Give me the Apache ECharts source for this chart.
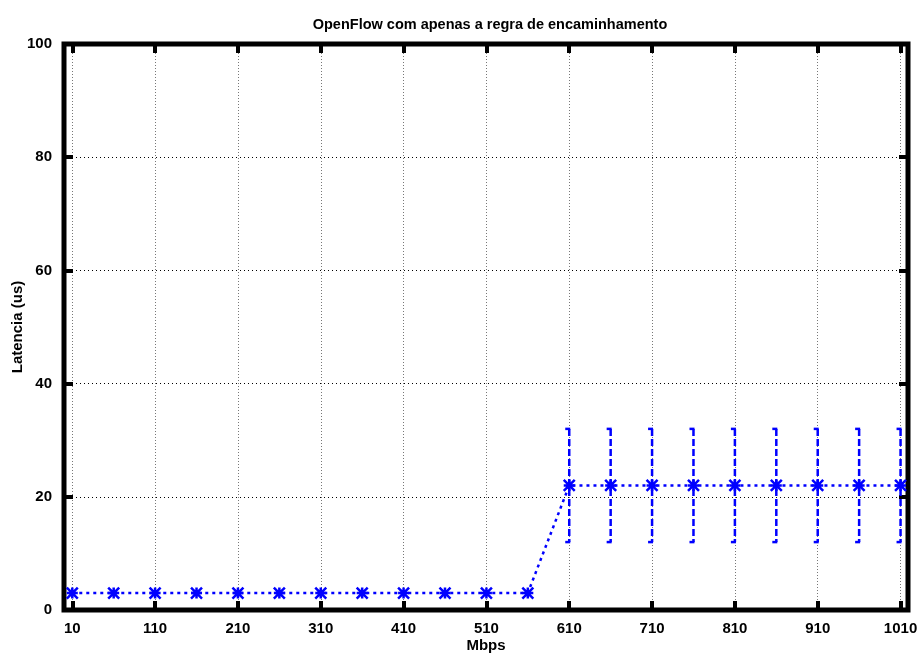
<!DOCTYPE html>
<html>
<head>
<meta charset="utf-8">
<title>OpenFlow com apenas a regra de encaminhamento</title>
<script src="https://cdn.jsdelivr.net/npm/echarts@6/dist/echarts.min.js"></script>
<style>
  html, body { margin: 0; padding: 0; background: #fff; }
  #chart { width: 921px; height: 657px; }
</style>
</head>
<body>
<div id="chart"></div>
<script>
// Offered load (Mbps) and measured latency (us)
const mbps = [10, 60, 110, 160, 210, 260, 310, 360, 410, 460, 510, 560,
              610, 660, 710, 760, 810, 860, 910, 960, 1010];
const latency = [3, 3, 3, 3, 3, 3, 3, 3, 3, 3, 3, 3,
                 22, 22, 22, 22, 22, 22, 22, 22, 22];
// Error bars (only for the loaded region)
const errMbps = [610, 660, 710, 760, 810, 860, 910, 960, 1010];
const errLow  = [12, 12, 12, 12, 12, 12, 12, 12, 12];
const errHigh = [32, 32, 32, 32, 32, 32, 32, 32, 32];
// Axis ticks
const xTicks = [10, 110, 210, 310, 410, 510, 610, 710, 810, 910, 1010];

const BLUE = '#0000ff';
const FONT = '"Liberation Sans", Arial, Helvetica, sans-serif';

const chart = echarts.init(document.getElementById('chart'), null, { renderer: 'canvas' });

const tickStyle = { show: true, inside: true, length: 9, lineStyle: { color: '#000', width: 4 } };
const labelFont = { fontFamily: FONT, fontSize: 15, fontWeight: 'bold', color: '#000' };
const noLine = { show: false, onZero: false };

const option = {
  animation: false,
  backgroundColor: '#fff',
  title: {
    text: 'OpenFlow com apenas a regra de encaminhamento',
    left: 485, top: 12, textAlign: 'center',
    textStyle: { fontFamily: FONT, fontSize: 14.5, fontWeight: 'bold', color: '#000' }
  },
  grid: {
    left: 64, right: 13, top: 44, bottom: 47,
    outerBoundsMode: 'none',
    containLabel: false,
    show: true, borderColor: '#000', borderWidth: 5, backgroundColor: 'transparent'
  },
  xAxis: [{
    type: 'value', min: 0, max: 1019, position: 'bottom',
    name: 'Mbps', nameLocation: 'middle', nameGap: 28, nameMoveOverlap: false,
    nameTextStyle: labelFont,
    axisLine: noLine,
    axisTick: Object.assign({ customValues: xTicks }, tickStyle),
    axisLabel: Object.assign({ customValues: xTicks, margin: 11, formatter: v => String(v) }, labelFont),
    splitLine: { show: true, lineStyle: { color: '#777', width: 1, type: [1, 2] } }
  }, {
    type: 'value', min: 0, max: 1019, position: 'top',
    axisLine: noLine,
    axisTick: Object.assign({ customValues: xTicks }, tickStyle),
    axisLabel: { show: false },
    splitLine: { show: false }
  }],
  yAxis: [{
    type: 'value', min: 0, max: 100, interval: 20, position: 'left',
    name: 'Latencia (us)', nameLocation: 'middle', nameGap: 39, nameMoveOverlap: false,
    nameTextStyle: labelFont,
    axisLine: noLine,
    axisTick: tickStyle,
    axisLabel: Object.assign({ margin: 12 }, labelFont),
    splitLine: { show: true, lineStyle: { color: '#000', width: 1, type: [1, 3] } }
  }, {
    type: 'value', min: 0, max: 100, interval: 20, position: 'right',
    axisLine: noLine,
    axisTick: tickStyle,
    axisLabel: { show: false },
    splitLine: { show: false }
  }],
  series: [{
    type: 'custom',
    name: 'erro',
    xAxisIndex: 0, yAxisIndex: 0,
    data: errMbps.map((x, i) => [x, errLow[i], errHigh[i]]),
    encode: { x: 0, y: [1, 2] },
    z: 3,
    renderItem: function (params, api) {
      const top = api.coord([api.value(0), api.value(2)]);
      const bot = api.coord([api.value(0), api.value(1)]);
      const st = { stroke: BLUE, lineWidth: 2.5, lineDash: [7, 3] };
      return {
        type: 'group',
        children: [
          { type: 'line', shape: { x1: top[0], y1: top[1], x2: bot[0], y2: bot[1] }, style: st },
          { type: 'line', shape: { x1: top[0] - 4, y1: top[1], x2: top[0] + 1, y2: top[1] }, style: { stroke: BLUE, lineWidth: 2.5 } },
          { type: 'line', shape: { x1: bot[0] - 4, y1: bot[1], x2: bot[0] + 1, y2: bot[1] }, style: { stroke: BLUE, lineWidth: 2.5 } }
        ]
      };
    }
  }, {
    type: 'line',
    name: 'latencia',
    xAxisIndex: 0, yAxisIndex: 0,
    data: mbps.map((x, i) => [x, latency[i]]),
    z: 4,
    symbol: 'path://M0,0L10,10M10,0L0,10M0,5L10,5M5,0L5,10',
    symbolSize: 11,
    showAllSymbol: true,
    lineStyle: { color: BLUE, width: 2.5, type: [3, 4] },
    itemStyle: { color: BLUE, borderColor: BLUE, borderWidth: 2.5 }
  }]
};

chart.setOption(option);
</script>
</body>
</html>
